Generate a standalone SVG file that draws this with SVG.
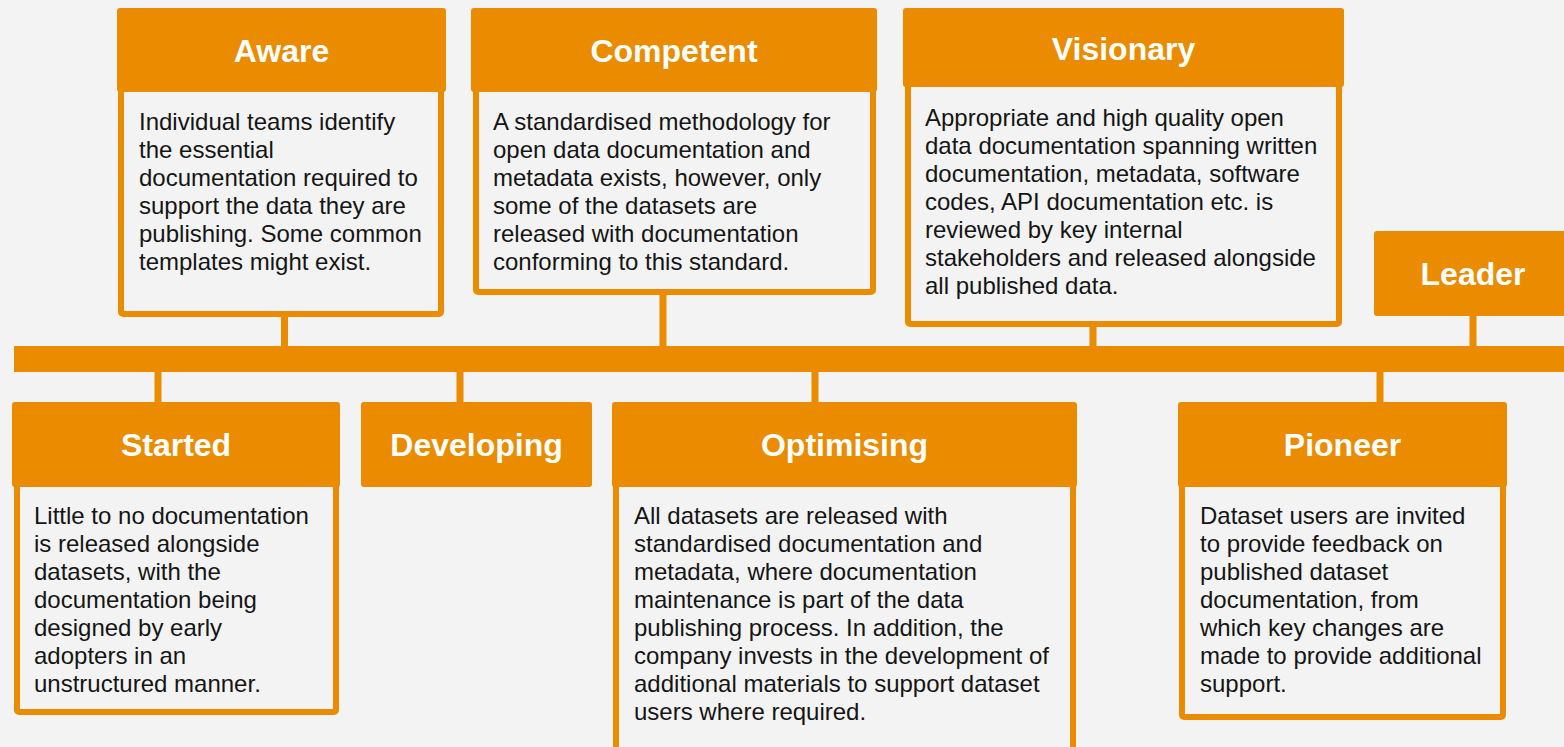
<svg xmlns="http://www.w3.org/2000/svg" width="1564" height="747" viewBox="0 0 1564 747">
  <style>
    .hdr { fill: #eb8c00; }
    .body { fill: #f3f3f3; stroke: #eb8c00; stroke-width: 6; }
    .stem { fill: #eb8c00; }
    .title { font-family: "Liberation Sans", Arial, sans-serif; font-weight: bold; font-size: 32px; fill: #ffffff; text-anchor: middle; }
    .desc { font-family: "Liberation Sans", Arial, sans-serif; font-size: 24px; fill: #151515; }
  </style>
  <rect x="0" y="0" width="1564" height="747" fill="#f3f3f3"/>

  <!-- timeline bar and stems -->
  <g id="connectors">
    <rect class="stem" x="14" y="346" width="1560" height="26"/>
    <rect class="stem" x="281" y="310" width="7" height="40"/>
    <rect class="stem" x="659.5" y="290" width="7" height="60"/>
    <rect class="stem" x="1089.5" y="320" width="7" height="30"/>
    <rect class="stem" x="1469.5" y="310" width="7" height="40"/>
    <rect class="stem" x="154.5" y="368" width="7" height="40"/>
    <rect class="stem" x="456.5" y="368" width="7" height="40"/>
    <rect class="stem" x="811.5" y="368" width="7" height="40"/>
    <rect class="stem" x="1376.5" y="368" width="7" height="40"/>
  </g>

  <g id="aware">
    <rect class="body" x="121" y="80" width="320" height="234" rx="2"/>
    <rect class="hdr" x="117" y="8" width="329" height="84" rx="3"/>
    <text class="title" x="281.5" y="62">Aware</text>
    <text class="desc">
      <tspan x="139" y="130">Individual teams identify</tspan>
      <tspan x="139" y="158">the essential</tspan>
      <tspan x="139" y="186">documentation required to</tspan>
      <tspan x="139" y="214">support the data they are</tspan>
      <tspan x="139" y="242">publishing. Some common</tspan>
      <tspan x="139" y="270">templates might exist.</tspan>
    </text>
  </g>

  <g id="competent">
    <rect class="body" x="476" y="80" width="397" height="212" rx="2"/>
    <rect class="hdr" x="471" y="8" width="406" height="84" rx="3"/>
    <text class="title" x="674" y="62">Competent</text>
    <text class="desc">
      <tspan x="493" y="130">A standardised methodology for</tspan>
      <tspan x="493" y="158">open data documentation and</tspan>
      <tspan x="493" y="186">metadata exists, however, only</tspan>
      <tspan x="493" y="214">some of the datasets are</tspan>
      <tspan x="493" y="242">released with documentation</tspan>
      <tspan x="493" y="270">conforming to this standard.</tspan>
    </text>
  </g>

  <g id="visionary">
    <rect class="body" x="908" y="75" width="431" height="249" rx="2"/>
    <rect class="hdr" x="903" y="8" width="441" height="79" rx="3"/>
    <text class="title" x="1123.5" y="60">Visionary</text>
    <text class="desc">
      <tspan x="925" y="126">Appropriate and high quality open</tspan>
      <tspan x="925" y="154">data documentation spanning written</tspan>
      <tspan x="925" y="182">documentation, metadata, software</tspan>
      <tspan x="925" y="210">codes, API documentation etc. is</tspan>
      <tspan x="925" y="238">reviewed by key internal</tspan>
      <tspan x="925" y="266">stakeholders and released alongside</tspan>
      <tspan x="925" y="294">all published data.</tspan>
    </text>
  </g>

  <g id="leader">
    <rect class="hdr" x="1374" y="231" width="198" height="85" rx="3"/>
    <text class="title" x="1473" y="285">Leader</text>
  </g>

  <g id="started">
    <rect class="body" x="17" y="470" width="319" height="242" rx="2"/>
    <rect class="hdr" x="12" y="402" width="328" height="85" rx="3"/>
    <text class="title" x="176" y="456">Started</text>
    <text class="desc">
      <tspan x="34" y="524">Little to no documentation</tspan>
      <tspan x="34" y="552">is released alongside</tspan>
      <tspan x="34" y="580">datasets, with the</tspan>
      <tspan x="34" y="608">documentation being</tspan>
      <tspan x="34" y="636">designed by early</tspan>
      <tspan x="34" y="664">adopters in an</tspan>
      <tspan x="34" y="692">unstructured manner.</tspan>
    </text>
  </g>

  <g id="developing">
    <rect class="hdr" x="361" y="402" width="231" height="85" rx="3"/>
    <text class="title" x="476.5" y="456">Developing</text>
  </g>

  <g id="optimising">
    <rect class="body" x="616" y="470" width="457" height="300" rx="2"/>
    <rect class="hdr" x="612" y="402" width="465" height="85" rx="3"/>
    <text class="title" x="844.5" y="456">Optimising</text>
    <text class="desc">
      <tspan x="634" y="524">All datasets are released with</tspan>
      <tspan x="634" y="552">standardised documentation and</tspan>
      <tspan x="634" y="580">metadata, where documentation</tspan>
      <tspan x="634" y="608">maintenance is part of the data</tspan>
      <tspan x="634" y="636">publishing process. In addition, the</tspan>
      <tspan x="634" y="664">company invests in the development of</tspan>
      <tspan x="634" y="692">additional materials to support dataset</tspan>
      <tspan x="634" y="720">users where required.</tspan>
    </text>
  </g>

  <g id="pioneer">
    <rect class="body" x="1182" y="470" width="321" height="247" rx="2"/>
    <rect class="hdr" x="1178" y="402" width="329" height="85" rx="3"/>
    <text class="title" x="1342.5" y="456">Pioneer</text>
    <text class="desc">
      <tspan x="1200" y="524">Dataset users are invited</tspan>
      <tspan x="1200" y="552">to provide feedback on</tspan>
      <tspan x="1200" y="580">published dataset</tspan>
      <tspan x="1200" y="608">documentation, from</tspan>
      <tspan x="1200" y="636">which key changes are</tspan>
      <tspan x="1200" y="664">made to provide additional</tspan>
      <tspan x="1200" y="692">support.</tspan>
    </text>
  </g>
</svg>
